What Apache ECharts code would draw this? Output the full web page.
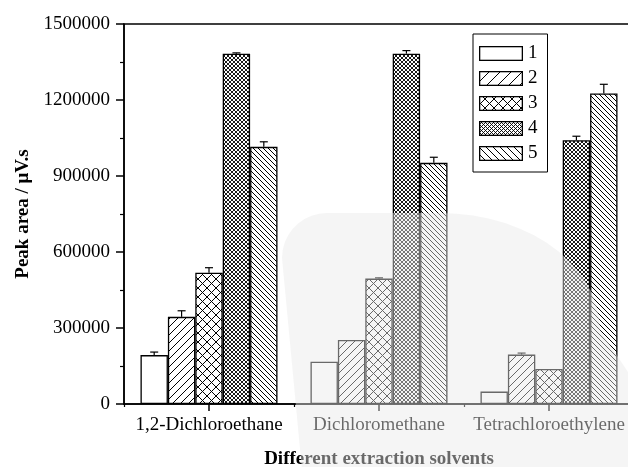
<!DOCTYPE html>
<html>
<head>
<meta charset="utf-8">
<script src="https://cdn.jsdelivr.net/npm/echarts@6/dist/echarts.min.js"></script>
<style>
  html, body { margin: 0; padding: 0; background: #fff; }
  #chart { width: 628px; height: 467px; }
</style>
</head>
<body>
<div id="chart"></div>
<script>
// Extraction solvents on the category axis
const categories = ['1,2-Dichloroethane', 'Dichloromethane', 'Tetrachloroethylene'];
const seriesNames = ['1', '2', '3', '4', '5'];

// Peak area (μV.s) per solvent, one array per condition
const peak1 = [193000, 167000, 49000];
const peak2 = [344000, 253000, 195000];
const peak3 = [518000, 495000, 138000];
const peak4 = [1383000, 1383000, 1041000];
const peak5 = [1015000, 952000, 1226000];

// Standard deviations (upper error bar)
const err1 = [12000, 0, 0];
const err2 = [24000, 0, 6000];
const err3 = [20000, 3000, 0];
const err4 = [3000, 12000, 16000];
const err5 = [20000, 22000, 36000];

const yTicks = [0, 300000, 600000, 900000, 1200000, 1500000];

const peaks = [peak1, peak2, peak3, peak4, peak5];
const errs = [err1, err2, err3, err4, err5];

const FONT = '"Liberation Serif", "Times New Roman", serif';
const FONT_SIZE = 19;
const CATEGORY_GAP = 0.194;
const KEY_W = 44, KEY_H = 15;

// Draw diagonal hatching into a 2d context over a w x h area
function drawHatch(ctx, w, h, period, dirs, lw) {
  ctx.fillStyle = '#fff';
  ctx.fillRect(0, 0, w, h);
  ctx.strokeStyle = '#000';
  ctx.lineWidth = lw;
  ctx.beginPath();
  dirs.forEach(function (d) {
    for (let o = -h - period; o <= w + h + period; o += period) {
      if (d === 'fwd') {
        ctx.moveTo(o, h); ctx.lineTo(o + h, 0);
      } else {
        ctx.moveTo(o, 0); ctx.lineTo(o + h, h);
      }
    }
  });
  ctx.stroke();
}

// Repeating fill tile for the bars
function hatch(period, dirs, lw) {
  const c = document.createElement('canvas');
  c.width = period; c.height = period;
  drawHatch(c.getContext('2d'), period, period, period, dirs, lw);
  return { image: c, repeat: 'repeat' };
}

// Legend key image: hatched box with a black frame
function keyIcon(period, dirs, lw) {
  const c = document.createElement('canvas');
  c.width = KEY_W; c.height = KEY_H;
  const ctx = c.getContext('2d');
  if (period) {
    drawHatch(ctx, KEY_W, KEY_H, period, dirs, lw);
  } else {
    ctx.fillStyle = '#fff';
    ctx.fillRect(0, 0, KEY_W, KEY_H);
  }
  ctx.strokeStyle = '#000';
  ctx.lineWidth = 1.3;
  ctx.strokeRect(0.65, 0.65, KEY_W - 1.3, KEY_H - 1.3);
  return 'image://' + c.toDataURL();
}

const barFills = [
  '#ffffff',
  hatch(8, ['fwd'], 1),
  hatch(9, ['fwd', 'back'], 1),
  hatch(4, ['fwd', 'back'], 0.9),
  hatch(5, ['back'], 1)
];

const keyIcons = [
  keyIcon(0),
  keyIcon(11, ['fwd'], 1),
  keyIcon(9, ['fwd', 'back'], 1),
  keyIcon(4, ['fwd', 'back'], 0.9),
  keyIcon(7, ['back'], 1)
];

const barSeries = seriesNames.map(function (name, i) {
  return {
    name: name,
    type: 'bar',
    xAxisIndex: 0,
    yAxisIndex: 0,
    data: peaks[i],
    barGap: '0%',
    barCategoryGap: (CATEGORY_GAP * 100) + '%',
    itemStyle: { color: barFills[i], borderColor: '#000', borderWidth: 1.3 },
    z: 2
  };
});

// Error bars: [category index, value, error, series index]
const errData = [];
peaks.forEach(function (arr, i) {
  arr.forEach(function (v, j) {
    errData.push([j, v, errs[i][j], i]);
  });
});

const errorSeries = {
  type: 'custom',
  xAxisIndex: 0,
  yAxisIndex: 0,
  data: errData,
  z: 5,
  silent: true,
  renderItem: function (params, api) {
    const cat = api.value(0);
    const v = api.value(1);
    const e = api.value(2);
    const idx = api.value(3);
    if (!e) return null;
    const band = api.size([1, 0])[0];
    const bw = band * (1 - CATEGORY_GAP) / seriesNames.length;
    const base = api.coord([cat, v]);
    const top = api.coord([cat, v + e]);
    const x = base[0] + (idx - (seriesNames.length - 1) / 2) * bw;
    const style = { stroke: '#000', lineWidth: 1.2, fill: null };
    return {
      type: 'group',
      children: [
        { type: 'line', shape: { x1: x, y1: base[1], x2: x, y2: top[1] }, style: style },
        { type: 'line', shape: { x1: x - 4, y1: top[1], x2: x + 4, y2: top[1] }, style: style }
      ]
    };
  }
};

// Outline of the pale watermark panel over the lower right of the figure
function hazeOutline() {
  const pts = [];
  pts.push([302, 470]);
  pts.push([282, 258]);
  for (let a = 180; a <= 270; a += 10) {
    const r = a * Math.PI / 180;
    pts.push([327 + 45 * Math.cos(r), 258 + 45 * Math.sin(r)]);
  }
  for (let a = 270; a <= 360; a += 6) {
    const r = a * Math.PI / 180;
    pts.push([440 + 160 * Math.cos(r), 330 + 117 * Math.sin(r)]);
  }
  pts.push([640, 390]);
  pts.push([640, 470]);
  return pts;
}

const chart = echarts.init(document.getElementById('chart'), null, { renderer: 'canvas' });

chart.setOption({
  animation: false,
  backgroundColor: '#fff',
  textStyle: { fontFamily: FONT, color: '#000' },
  grid: {
    left: 124, top: 24, width: 510, bottom: 63,
    containLabel: false,
    outerBoundsMode: 'none',
    show: true, borderColor: '#000', borderWidth: 1.5, backgroundColor: 'transparent'
  },
  legend: {
    orient: 'vertical',
    left: 473, top: 34,
    data: seriesNames.map(function (n, i) {
      return { name: n, icon: keyIcons[i] };
    }),
    itemWidth: KEY_W, itemHeight: KEY_H, itemGap: 6,
    padding: [10, 10, 9, 6],
    borderColor: '#000', borderWidth: 1,
    backgroundColor: '#fff',
    textStyle: { fontFamily: FONT, fontSize: FONT_SIZE, color: '#000' },
    selectedMode: false
  },
  xAxis: [
    {
      type: 'category',
      data: categories,
      position: 'bottom',
      axisLine: { show: true, lineStyle: { color: '#000', width: 1.5 } },
      axisTick: { show: true, alignWithLabel: true, length: 7, lineStyle: { color: '#000', width: 1.5 } },
      axisLabel: { fontFamily: FONT, fontSize: FONT_SIZE, color: '#000', margin: 12, interval: 0 },
      name: 'Different extraction solvents',
      nameLocation: 'middle',
      nameGap: 46,
      nameTextStyle: { fontFamily: FONT, fontSize: FONT_SIZE, fontWeight: 'bold', color: '#000' }
    },
    {
      type: 'category',
      data: categories,
      position: 'bottom',
      axisLine: { show: false },
      axisTick: { show: true, length: 3, interval: 0, lineStyle: { color: '#000', width: 1.2 } },
      axisLabel: { show: false }
    }
  ],
  yAxis: {
    type: 'value',
    min: yTicks[0],
    max: yTicks[yTicks.length - 1],
    interval: yTicks[1] - yTicks[0],
    axisLine: { show: true, lineStyle: { color: '#000', width: 1.5 } },
    axisTick: { show: true, length: 8, lineStyle: { color: '#000', width: 1.5 } },
    minorTick: { show: true, splitNumber: 2, length: 4, lineStyle: { color: '#000', width: 1.2 } },
    splitLine: { show: false },
    axisLabel: {
      fontFamily: FONT, fontSize: FONT_SIZE, color: '#000', margin: 14,
      formatter: function (v) { return String(v); }
    },
    name: 'Peak area / μV.s',
    nameLocation: 'middle',
    nameGap: 90,
    nameTextStyle: { fontFamily: FONT, fontSize: FONT_SIZE, fontWeight: 'bold', color: '#000' }
  },
  graphic: [
    {
      type: 'polygon',
      z: 100,
      silent: true,
      shape: { points: hazeOutline() },
      style: { fill: 'rgba(232,232,232,0.45)' }
    }
  ],
  series: barSeries.concat([errorSeries])
});
</script>
</body>
</html>
